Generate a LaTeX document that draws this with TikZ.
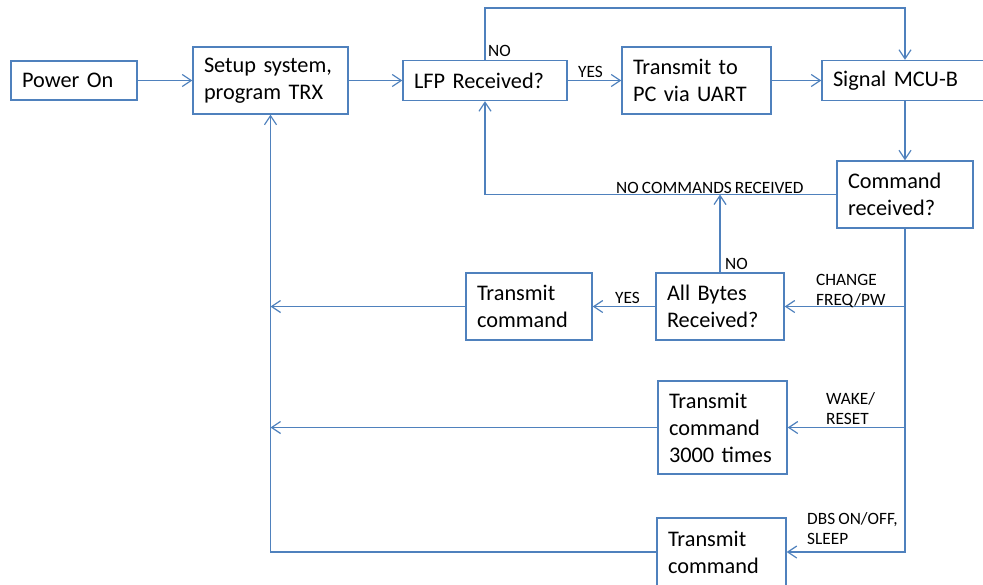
\documentclass[tikz,border=0pt]{standalone}
\usepackage{fontspec}
\setmainfont{Carlito}[WordSpace=0.8]
\usetikzlibrary{arrows.meta}
\definecolor{flow}{RGB}{79,129,189}
\newcommand\boxfont{\fontsize{22.3}{27}\selectfont}
\newcommand\tagfont{\fontsize{17.3}{20.5}\selectfont}
\begin{document}
\begin{tikzpicture}[x=1pt,y=-1pt,
  box/.style={draw=flow, line width=1.4pt, inner xsep=11pt, inner ysep=0pt,
              align=left, font=\boxfont},
  link/.style={draw=flow, line width=1.2pt,
               -{Straight Barb[length=9pt,width=12pt]}},
  tag/.style={inner sep=0pt, align=left, font=\tagfont, anchor=north west}]
\useasboundingbox (0,0) rectangle (983,584);
\clip (0,0) rectangle (983,584);

% process boxes
\node[box, text width=104pt, minimum height=39pt] (power) at (74,80.5) {Power On};
\node[box, text width=133pt, minimum height=67pt] (setup) at (270.5,80.5) {Setup system,\\program TRX};
\node[box, text width=142pt, minimum height=40pt] (lfp) at (485,80.5) {LFP Received?};
\node[box, text width=127pt, minimum height=67pt] (pc) at (696.5,80.5) {Transmit to\\PC via UART};
\node[box, text width=151pt, minimum height=40pt] (mcu) at (908.5,80.5) {Signal MCU-B};
\node[box, text width=114pt, minimum height=67pt] (cmd) at (905,194.5) {Command\\received?};
\node[box, text width=106pt, minimum height=67pt] (allb) at (720,306.5) {All Bytes\\Received?};
\node[box, text width=104pt, minimum height=67pt] (tca) at (529,306.5) {Transmit\\command};
\node[box, text width=107pt, minimum height=93pt] (tcc) at (722.5,427.5) {Transmit\\command\\3000 times};
\node[box, text width=107pt, minimum height=68pt] (tcb) at (721.5,552) {Transmit\\command};

% routing columns and rows
\coordinate (top) at (0,8);
\coordinate (left) at (270.5,0);

% connectors
\draw[link] (power.east) -- (setup.west);
\draw[link] (setup.east) -- (lfp.west);
\draw[link] (lfp.east) -- (pc.west);
\draw[link] (pc.east) -- (mcu.west);
\draw[link] (lfp.north) -- (lfp.north |- top) -- (cmd.north |- top) -- (cmd.north |- mcu.north);
\draw[link] (cmd.north |- mcu.south) -- (cmd.north);
\draw[link] (cmd.west) -- (lfp.south |- cmd.west) -- (lfp.south);
\draw[link] (allb.north) -- (allb.north |- cmd.west);
\draw[link] (cmd.south) -- (cmd.south |- tcb.east) -- (tcb.east);
\draw[link] (cmd.south |- allb.east) -- (allb.east);
\draw[link] (cmd.south |- tcc.east) -- (tcc.east);
\draw[link] (allb.west) -- (tca.east);
\draw[link] (tca.west) -- (left |- tca.west);
\draw[link] (tcc.west) -- (left |- tcc.west);
\draw[link] (tcb.west) -- (left |- tcb.west) -- (setup.south);

% branch labels
\node[tag] (yesa) at (578,66.5) {YES};
\node[tag] (noa) at (488,45) {NO};
\node[tag] (nocmd) at (616,182) {NO COMMANDS RECEIVED};
\node[tag] (nob) at (725,258) {NO};
\node[tag] (yesb) at (615,292) {YES};
\node[tag] (chg) at (816,274) {CHANGE\\FREQ/PW};
\node[tag] (wake) at (826,392) {WAKE/\\RESET};
\node[tag] (dbs) at (807,512) {DBS ON/OFF,\\SLEEP};
\end{tikzpicture}
\end{document}
